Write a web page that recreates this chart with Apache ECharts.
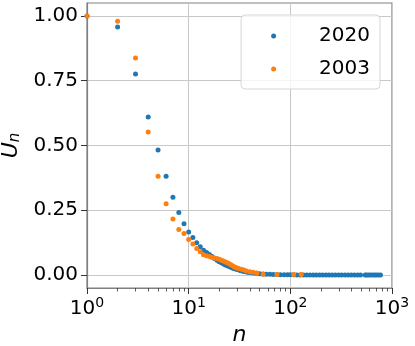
<!DOCTYPE html>
<html lang="en">
<head>
<meta charset="UTF-8">
<title>U_n</title>
<script src="https://cdn.jsdelivr.net/npm/echarts@6/dist/echarts.min.js"></script>
<style>
  html, body { margin: 0; padding: 0; background: #fff; }
  #chart { width: 415px; height: 346px; }
</style>
</head>
<body>
<div id="chart"></div>
<script>
// 2020 series (blue)
var n2020 = [1, 2, 3, 4, 5, 6, 7, 8, 9, 10, 11, 12, 13, 14, 15, 16, 17, 18, 19, 20,
  21, 22, 23, 24, 25, 26, 27, 28, 29, 30, 32, 34, 36, 38, 40, 43, 46, 50, 54, 58,
  63, 68, 74, 80, 87, 94, 100, 108, 116, 125, 135, 145, 156, 168, 180, 194, 208,
  224, 240, 258, 277, 298, 320, 345, 370, 398, 428, 460, 490, 545, 560, 585, 610,
  640, 670, 700, 735, 770];
var u2020 = [1.0, 0.957, 0.776, 0.61, 0.483, 0.381, 0.30, 0.241, 0.198, 0.166, 0.145,
  0.125, 0.109, 0.096, 0.087, 0.079, 0.072, 0.064, 0.057, 0.051,
  0.047, 0.043, 0.039, 0.036, 0.033, 0.030, 0.027, 0.025, 0.023, 0.021, 0.018, 0.015,
  0.013, 0.011, 0.010, 0.008, 0.007, 0.005, 0.004, 0.003,
  0.003, 0.002, 0.002, 0.0015, 0.001, 0.001, 0.001, 0.001, 0.0005, 0.0005, 0.0005,
  0.0005, 0, 0, 0, 0, 0, 0, 0, 0, 0, 0, 0, 0, 0, 0, 0, 0, 0, 0, 0, 0, 0, 0, 0, 0, 0, 0];

// 2003 series (orange)
var n2003 = [1, 2, 3, 4, 5, 6, 7, 8, 9, 10, 11, 12, 13, 14, 15, 16, 17, 18, 19, 20,
  21, 22, 23, 24, 25, 26, 27, 28, 29, 30, 31, 33, 35, 37, 40, 43, 47, 54, 74, 108, 128];
var u2003 = [1.0, 0.98, 0.838, 0.552, 0.381, 0.275, 0.216, 0.176, 0.16, 0.137, 0.12,
  0.102, 0.09, 0.078, 0.074, 0.072, 0.068, 0.066, 0.064, 0.061,
  0.057, 0.054, 0.05, 0.047, 0.044, 0.040, 0.036, 0.032, 0.029, 0.027, 0.025, 0.022,
  0.019, 0.016, 0.013, 0.011, 0.008, 0.003, 0.002, 0.002, 0.002];

var yTicks = [0, 0.25, 0.5, 0.75, 1.0];
var xMinorTicks = [2, 3, 4, 5, 6, 7, 8, 9, 20, 30, 40, 50, 60, 70, 80, 90,
  200, 300, 400, 500, 600, 700, 800, 900];

function pairs(xs, ys) {
  return xs.map(function (x, i) { return [x, ys[i]]; });
}

var font = 'DejaVu Sans';
var chart = echarts.init(document.getElementById('chart'), null, { renderer: 'canvas' });

var option = {
  animation: false,
  textStyle: { fontFamily: font },
  grid: {
    left: 87, right: 23, top: 3, bottom: 58,
    outerBoundsMode: 'none', containLabel: false,
    show: true, borderColor: '#808080', borderWidth: 1.2, backgroundColor: '#fff'
  },
  legend: {
    orient: 'vertical',
    right: 35, top: 15,
    data: ['2020', '2003'],
    icon: 'circle',
    itemWidth: 5, itemHeight: 5,
    itemGap: 13,
    padding: [11, 10, 10, 30],
    backgroundColor: 'rgba(255,255,255,0.8)',
    borderColor: '#d6d6d6', borderWidth: 1, borderRadius: 4,
    textStyle: { fontFamily: font, fontSize: 20, color: '#000', padding: [0, 0, 0, 38] }
  },
  xAxis: [{
    type: 'log', logBase: 10, min: 1, max: 1000,
    name: 'n', nameLocation: 'middle', nameGap: 32,
    nameTextStyle: { fontFamily: font, fontSize: 22, fontStyle: 'italic', color: '#000' },
    axisLine: { show: true, onZero: false, lineStyle: { color: '#808080', width: 1.2 } },
    axisTick: { show: true, length: 6, lineStyle: { color: '#333', width: 1 } },
    axisLabel: {
      margin: 8,
      formatter: function (v) {
        return '{b|10}{s|' + Math.round(Math.log(v) / Math.LN10) + '}';
      },
      rich: {
        b: { fontFamily: font, fontSize: 20, color: '#000' },
        s: { fontFamily: font, fontSize: 14, color: '#000', padding: [0, 0, 12, 0] }
      }
    },
    splitLine: { show: true, lineStyle: { color: '#c8c8c8', width: 1 } },
    minorTick: { show: false }
  }, {
    type: 'log', logBase: 10, min: 1, max: 1000, position: 'bottom',
    axisLine: { show: false, onZero: false },
    axisLabel: { show: false },
    splitLine: { show: false },
    axisTick: { show: true, length: 3.5, customValues: xMinorTicks, lineStyle: { color: '#333', width: 0.8 } }
  }],
  yAxis: {
    type: 'value', min: -0.05, max: 1.05,
    name: '{u|U}{s|n}', nameLocation: 'middle', nameGap: 62,
    nameTextStyle: {
      rich: {
        u: { fontFamily: font, fontSize: 22, fontStyle: 'italic', color: '#000' },
        s: { fontFamily: font, fontSize: 15, fontStyle: 'italic', color: '#000', padding: [8, 0, 0, 0] }
      }
    },
    axisLine: { show: true, onZero: false, lineStyle: { color: '#808080', width: 1.2 } },
    axisTick: { show: true, length: 6, customValues: yTicks, lineStyle: { color: '#333', width: 1 } },
    axisLabel: {
      customValues: yTicks, margin: 9,
      fontFamily: font, fontSize: 20, color: '#000',
      formatter: function (v) { return v.toFixed(2); }
    },
    splitLine: { show: true, lineStyle: { color: '#c8c8c8', width: 1 } }
  },
  series: [{
    name: '2020', type: 'scatter', symbolSize: 5,
    itemStyle: { color: '#1f77b4', opacity: 1 },
    data: pairs(n2020, u2020)
  }, {
    name: '2003', type: 'scatter', symbolSize: 5,
    itemStyle: { color: '#ff7f0e', opacity: 1 },
    data: pairs(n2003, u2003)
  }]
};
chart.setOption(option);
</script>
</body>
</html>
